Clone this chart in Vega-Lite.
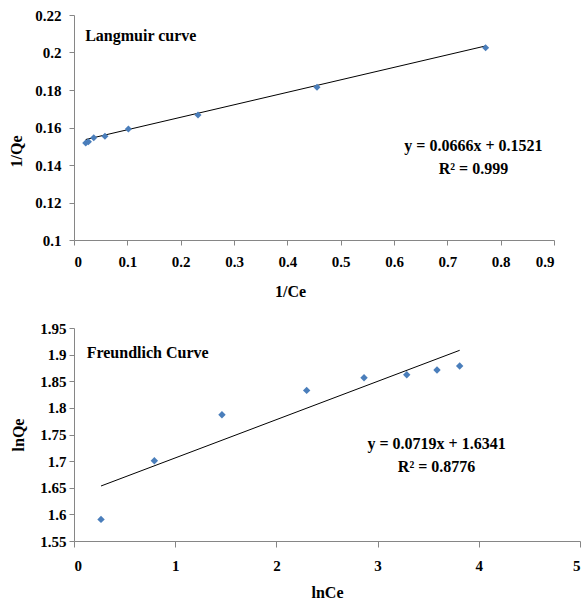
{
  "$schema": "https://vega.github.io/schema/vega-lite/v6.json",
  "padding": {"left": 8, "top": 8, "right": 2, "bottom": 2},
  "spacing": 22,
  "config": {
    "font": "Liberation Serif",
    "view": {"stroke": null},
    "axis": {
      "labelFont": "Liberation Serif", "labelFontWeight": "bold", "labelFontSize": 15, "labelColor": "black",
      "titleFont": "Liberation Serif", "titleFontWeight": "bold", "titleFontSize": 16, "titleColor": "black",
      "grid": false, "domainColor": "#868686", "tickColor": "#868686", "tickSize": 5
    }
  },
  "datasets": {
    "langmuir": [
      {"x": 0.022, "y": 0.1517},
      {"x": 0.027, "y": 0.1524},
      {"x": 0.037, "y": 0.1545},
      {"x": 0.058, "y": 0.1553},
      {"x": 0.102, "y": 0.1592},
      {"x": 0.2325, "y": 0.1667},
      {"x": 0.4556, "y": 0.1815},
      {"x": 0.7718, "y": 0.2025}
    ],
    "langmuirFit": [
      {"x": 0.022, "y": 0.1536},
      {"x": 0.7718, "y": 0.2035}
    ],
    "langmuirTitle": [
      {"x": 0.021, "y": 0.209, "t": "Langmuir curve"}
    ],
    "langmuirEq": [
      {"x": 0.749, "y": 0.150, "t": "y = 0.0666x + 0.1521"},
      {"x": 0.749, "y": 0.1378, "t": "R² = 0.999"}
    ],
    "freundlich": [
      {"x": 0.267, "y": 1.5906},
      {"x": 0.794, "y": 1.7008},
      {"x": 1.462, "y": 1.787},
      {"x": 2.299, "y": 1.8328},
      {"x": 2.866, "y": 1.8567},
      {"x": 3.288, "y": 1.8623},
      {"x": 3.587, "y": 1.871},
      {"x": 3.811, "y": 1.8786}
    ],
    "freundlichFit": [
      {"x": 0.267, "y": 1.6533},
      {"x": 3.811, "y": 1.9081}
    ],
    "freundlichTitle": [
      {"x": 0.125, "y": 1.9036, "t": "Freundlich Curve"}
    ],
    "freundlichEq": [
      {"x": 3.583, "y": 1.7327, "t": "y = 0.0719x + 1.6341"},
      {"x": 3.583, "y": 1.6895, "t": "R² = 0.8776"}
    ]
  },
  "vconcat": [
    {
      "width": 480,
      "height": 225,
      "encoding": {
        "x": {"field": "x", "type": "quantitative", "title": "1/Ce",
          "scale": {"domain": [0, 0.9], "nice": false, "zero": false},
          "axis": {"values": [0, 0.1, 0.2, 0.3, 0.4, 0.5, 0.6, 0.7, 0.8, 0.9], "format": "~g", "labelPadding": 9, "titlePadding": 14, "titleX": 216}},
        "y": {"field": "y", "type": "quantitative", "title": "1/Qe",
          "scale": {"domain": [0.1, 0.22], "nice": false, "zero": false},
          "axis": {"values": [0.1, 0.12, 0.14, 0.16, 0.18, 0.2, 0.22], "format": "~g", "labelPadding": 8, "titlePadding": 10, "titleY": 136}}
      },
      "layer": [
        {"data": {"name": "langmuirFit"}, "mark": {"type": "line", "color": "black", "strokeWidth": 1}},
        {"data": {"name": "langmuir"}, "mark": {"type": "point", "shape": "diamond", "filled": true, "color": "#4A7EBB", "opacity": 1, "size": 50}},
        {"data": {"name": "langmuirTitle"}, "mark": {"type": "text", "font": "Liberation Serif", "fontWeight": "bold", "fontSize": 16, "baseline": "middle", "align": "left", "color": "black"},
          "encoding": {"text": {"field": "t"}}},
        {"data": {"name": "langmuirEq"}, "mark": {"type": "text", "font": "Liberation Serif", "fontWeight": "bold", "fontSize": 16, "baseline": "middle", "align": "center", "color": "black"},
          "encoding": {"text": {"field": "t"}}}
      ]
    },
    {
      "width": 506,
      "height": 213,
      "encoding": {
        "x": {"field": "x", "type": "quantitative", "title": "lnCe",
          "scale": {"domain": [0, 5], "nice": false, "zero": false},
          "axis": {"values": [0, 1, 2, 3, 4, 5], "format": "~g", "labelPadding": 11, "titlePadding": 11, "tickSize": 6}},
        "y": {"field": "y", "type": "quantitative", "title": "lnQe",
          "scale": {"domain": [1.55, 1.95], "nice": false, "zero": false},
          "axis": {"values": [1.55, 1.6, 1.65, 1.7, 1.75, 1.8, 1.85, 1.9, 1.95], "format": "~g", "labelPadding": 3, "titlePadding": 13}}
      },
      "layer": [
        {"data": {"name": "freundlichFit"}, "mark": {"type": "line", "color": "black", "strokeWidth": 1}},
        {"data": {"name": "freundlich"}, "mark": {"type": "point", "shape": "diamond", "filled": true, "color": "#4A7EBB", "opacity": 1, "size": 55}},
        {"data": {"name": "freundlichTitle"}, "mark": {"type": "text", "font": "Liberation Serif", "fontWeight": "bold", "fontSize": 16, "baseline": "middle", "align": "left", "color": "black"},
          "encoding": {"text": {"field": "t"}}},
        {"data": {"name": "freundlichEq"}, "mark": {"type": "text", "font": "Liberation Serif", "fontWeight": "bold", "fontSize": 16, "baseline": "middle", "align": "center", "color": "black"},
          "encoding": {"text": {"field": "t"}}}
      ]
    }
  ]
}
